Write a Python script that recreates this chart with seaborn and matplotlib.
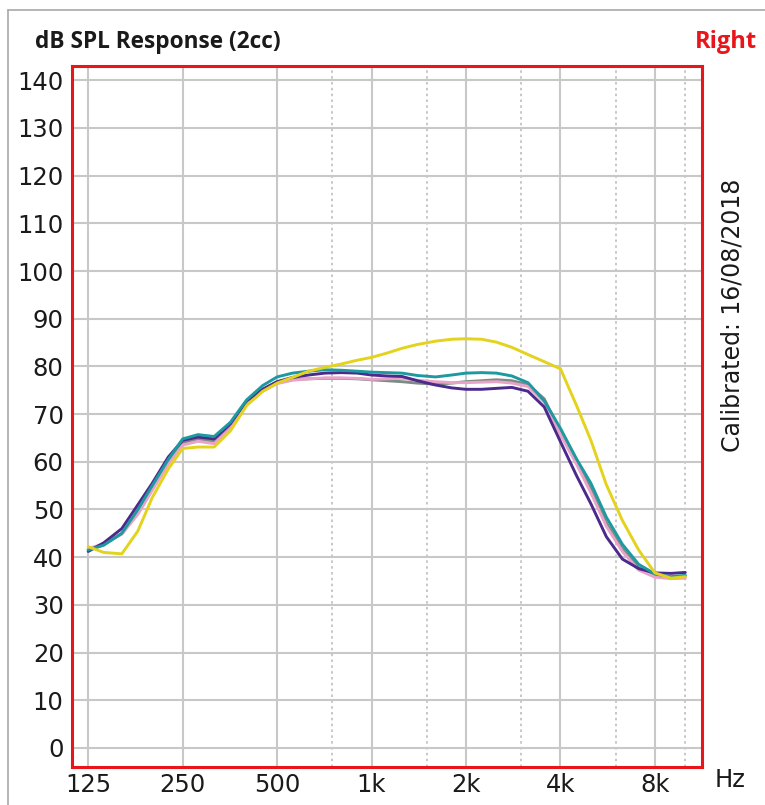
import matplotlib
matplotlib.use("Agg")
import matplotlib.pyplot as plt
from matplotlib.lines import Line2D
import seaborn as sns
import numpy as np
import pandas as pd

# frequencies (Hz), 1/6 octave steps
freqs = [125, 140, 160, 180, 200, 225, 250, 280, 315, 355, 400, 450, 500, 560,
         630, 710, 800, 900, 1000, 1120, 1250, 1400, 1600, 1800, 2000, 2240,
         2500, 2800, 3150, 3550, 4000, 4500, 5000, 5600, 6300, 7100, 8000,
         9000, 10000]

# dB SPL readings per curve
grey = [41.5, 42.6, 45.0, 49.5, 54.5, 60.0, 64.0, 64.8, 64.3, 67.5, 72.4, 75.2,
        76.8, 77.3, 77.4, 77.5, 77.5, 77.4, 77.2, 77.0, 76.8, 76.5, 76.3, 76.5,
        76.8, 77.0, 77.2, 77.0, 76.2, 73.2, 66.3, 60.0, 54.3, 47.2, 41.8, 37.8,
        36.0, 35.8, 36.0]
pink = [41.8, 42.8, 44.8, 49.0, 54.0, 59.5, 63.5, 64.3, 63.8, 67.0, 72.0, 74.8,
        76.4, 77.1, 77.4, 77.6, 77.6, 77.5, 77.3, 77.4, 77.5, 77.1, 76.8, 76.6,
        76.6, 76.7, 76.8, 76.5, 75.8, 72.5, 65.7, 59.5, 53.5, 46.5, 41.2, 37.3,
        35.8, 35.5, 35.6]
purple = [41.2, 43.0, 46.0, 51.0, 55.5, 61.0, 64.5, 65.2, 64.8, 68.0, 72.8, 75.2,
          76.8, 77.7, 78.2, 78.6, 78.7, 78.6, 78.2, 78.0, 77.9, 77.0, 76.1, 75.5,
          75.2, 75.2, 75.4, 75.6, 74.8, 71.5, 64.2, 57.1, 51.2, 44.3, 39.6, 37.6,
          36.7, 36.6, 36.8]
teal = [41.5, 42.5, 45.0, 50.0, 55.0, 60.5, 64.8, 65.7, 65.3, 68.3, 73.0, 76.0,
        77.8, 78.6, 79.0, 79.3, 79.2, 79.0, 78.8, 78.7, 78.6, 78.1, 77.8, 78.2,
        78.6, 78.7, 78.6, 78.0, 76.6, 72.8, 67.0, 60.6, 55.5, 48.4, 42.7, 38.5,
        36.5, 35.9, 36.2]
yellow = [42.2, 41.0, 40.7, 45.5, 52.5, 58.5, 62.8, 63.1, 63.1, 66.5, 71.8, 74.8,
          76.5, 77.7, 79.0, 79.8, 80.5, 81.3, 81.9, 82.8, 83.8, 84.6, 85.3, 85.7,
          85.8, 85.7, 85.1, 84.0, 82.5, 81.0, 79.5, 71.8, 64.5, 55.2, 47.7, 41.5,
          36.7, 35.6, 35.9]

series = {"grey": grey, "pink": pink, "purple": purple, "teal": teal, "yellow": yellow}
colors = {"grey": "#7b8c84", "pink": "#e9a3c9", "purple": "#4b2a8c",
          "teal": "#1c9aa0", "yellow": "#e3d31c"}

major_ticks = [125, 250, 500, 1000, 2000, 4000, 8000]
major_labels = ["125", "250", "500", "1k", "2k", "4k", "8k"]
minor_ticks = [750, 1500, 3000, 6000, 10000]
y_ticks = list(range(0, 141, 10))

df = pd.concat([pd.DataFrame({"freq": freqs, "db": v, "curve": k})
                for k, v in series.items()], ignore_index=True)

sns.set_theme(style="white")
plt.rcParams["font.family"] = ["DejaVu Sans"]

fig = plt.figure(figsize=(7.65, 8.05), dpi=100)
ax = fig.add_axes([72 / 765, 1 - 767 / 805, 630 / 765, 701 / 805])

sns.lineplot(data=df, x="freq", y="db", hue="curve", hue_order=list(series),
             palette=colors, linewidth=2.1, legend=False, ax=ax, zorder=3)

ax.set_xscale("log", base=2)
ax.set_xlim(111, 11300)
ax.set_ylim(-4, 143)
ax.set_xticks(major_ticks)
ax.set_xticklabels(major_labels)
ax.set_xticks(minor_ticks, minor=True)
ax.set_xticklabels([], minor=True)
ax.set_yticks(y_ticks)
ax.set_yticklabels([str(t) for t in y_ticks])
ax.tick_params(axis="both", which="both", length=0, labelsize=17.5, colors="#1a1a1a")
ax.tick_params(axis="x", pad=4)
ax.tick_params(axis="y", pad=6)

ax.grid(True, which="major", color="#c8c8c8", linewidth=1.5, linestyle="-")
ax.grid(True, axis="x", which="minor", color="#bdbdbd", linewidth=1.2, linestyle=(0, (1.5, 2)))
ax.set_axisbelow(True)
ax.set_xlabel("")
ax.set_ylabel("")
for sp in ax.spines.values():
    sp.set_color("#e8161b")
    sp.set_linewidth(2.2)
    sp.set_visible(True)

fig.text(35 / 765, 1 - 48 / 805, "dB SPL Response (2cc)", fontsize=16.3,
         fontweight="bold", family=["Open Sans", "DejaVu Sans"], color="#1a1a1a",
         ha="left", va="baseline")
fig.text(757 / 765, 1 - 48 / 805, "Right", fontsize=17, fontweight="bold",
         family=["Open Sans", "DejaVu Sans"], color="#e8161b", ha="right", va="baseline")
fig.text(730 / 765, 1 - 780 / 805, "Hz", fontsize=17.5, color="#1a1a1a",
         ha="center", va="center")
fig.text(733 / 765, 1 - 315 / 805, "Calibrated: 16/08/2018", fontsize=17,
         color="#1a1a1a", rotation=90, ha="center", va="center")

# outer grey panel border
fig.add_artist(Line2D([8 / 765, 8 / 765], [0, 1 - 10 / 805], color="#a8a8a8",
                      linewidth=1.2, transform=fig.transFigure))
fig.add_artist(Line2D([8 / 765, 1], [1 - 10 / 805, 1 - 10 / 805], color="#a8a8a8",
                      linewidth=1.2, transform=fig.transFigure))

fig.savefig("out.png", dpi=100)
